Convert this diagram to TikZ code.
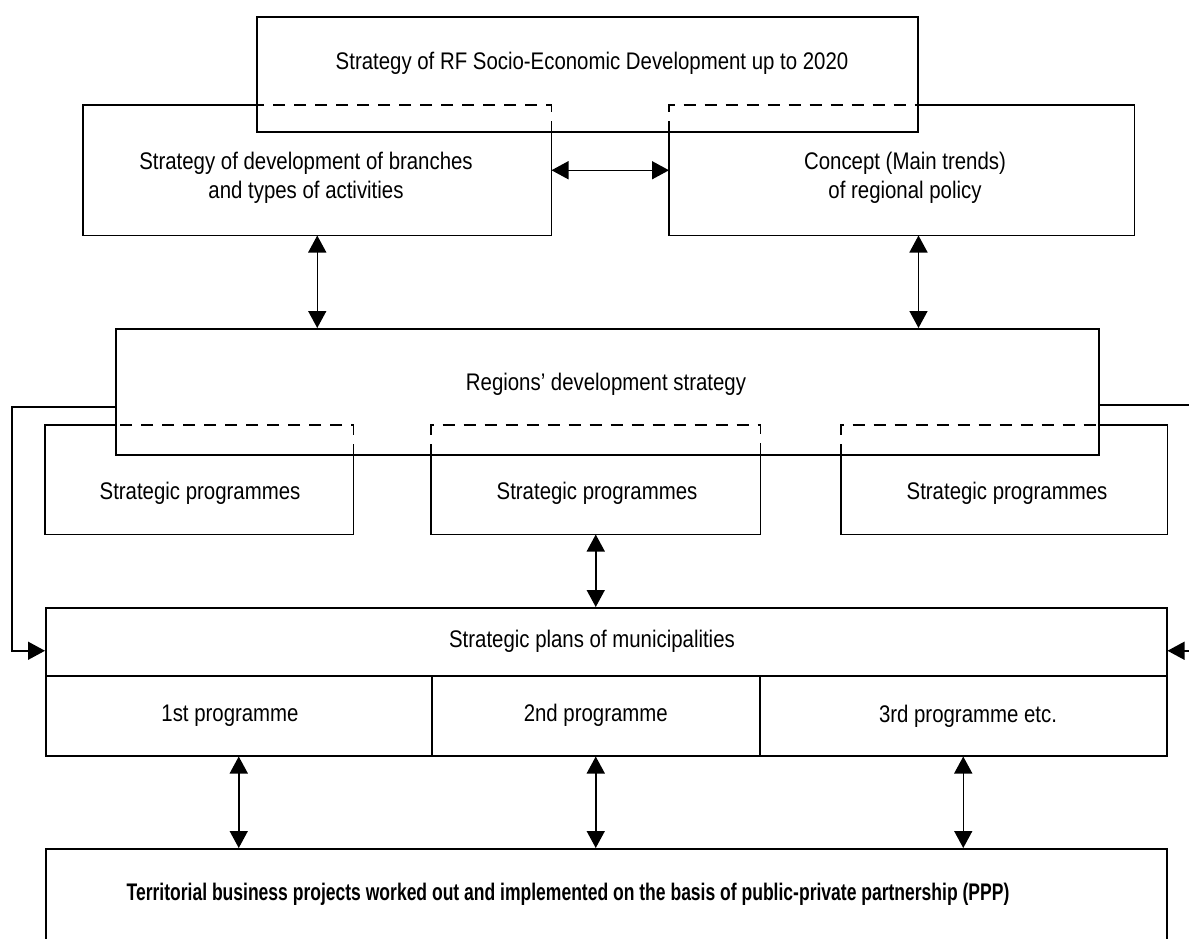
\documentclass[tikz,border=0pt]{standalone}
\usepackage{fontspec}
\setmainfont{Liberation Sans}[FakeStretch=0.85]
\newfontfamily\projectsfont{Liberation Sans}[FakeStretch=0.73]
\usetikzlibrary{arrows.meta,calc,positioning}

\begin{document}
\begin{tikzpicture}[
        x=0.5pt,
        y=-0.5pt,
        line width=0.75pt,
        >={Triangle[length=8.5pt,width=9pt]},
        block/.style={rectangle,inner sep=0pt,anchor=north west},
        framed block/.style={block,draw},
        hidden edge/.style={dash pattern=on 6pt off 4.5pt},
        block text/.style={align=center,font=\fontsize{12}{14.5}\selectfont}
    ]
        \clip (0,0) rectangle (1189,938);

        % The federal strategy with the two documents half hidden behind it.
        \node[framed block,minimum width=330.5pt,minimum height=57.5pt]
            (federal) at (256,16) {};
        \node[block,minimum width=233.5pt,minimum height=64.5pt]
            (branches) at (83,105) {};
        \node[block,minimum width=232pt,minimum height=64.5pt]
            (concept) at (669,105) {};
        \draw (federal.west |- branches.north) -- (branches.north west)
            -- (branches.south west) -- (branches.south east)
            -- (branches.east |- federal.south);
        \draw[hidden edge] (branches.east |- federal.south)
            -- (branches.north east) -- (federal.west |- branches.north);
        \draw (federal.east |- concept.north) -- (concept.north east)
            -- (concept.south east) -- (concept.south west)
            -- (concept.west |- federal.south);
        \draw[hidden edge] (concept.west |- federal.south)
            -- (concept.north west) -- (federal.east |- concept.north);

        % The regional strategy and its three programmes.
        \node[framed block,minimum width=491.5pt,minimum height=63pt]
            (regions) at (115,328) {};
        \node[block,minimum width=153.5pt,minimum height=54pt]
            (progleft) at (45,425) {};
        \node[block,minimum width=164pt,minimum height=54pt]
            (progmid) at (431,425) {};
        \node[block,minimum width=162.5pt,minimum height=54pt]
            (progright) at (841,425) {};
        \draw (regions.west |- progleft.north) -- (progleft.north west)
            -- (progleft.south west) -- (progleft.south east)
            -- (progleft.east |- regions.south);
        \draw[hidden edge] (progleft.east |- regions.south)
            -- (progleft.north east) -- (regions.west |- progleft.north);
        \draw (progmid.west |- regions.south) -- (progmid.south west)
            -- (progmid.south east) -- (progmid.east |- regions.south);
        \draw[hidden edge] (progmid.west |- regions.south)
            -- (progmid.north west) -- (progmid.north east)
            -- (progmid.east |- regions.south);
        \draw (regions.east |- progright.north) -- (progright.north east)
            -- (progright.south east) -- (progright.south west)
            -- (progright.west |- regions.south);
        \draw[hidden edge] (progright.west |- regions.south)
            -- (progright.north west) -- (regions.east |- progright.north);

        % The municipal plans, split into programmes, and the projects.
        \node[framed block,minimum width=560.5pt,minimum height=34pt]
            (plans) at (45,607) {};
        \node[framed block,minimum width=193pt,minimum height=40pt]
            (firstprog) at (45,675) {};
        \node[framed block,minimum width=164pt,minimum height=40pt]
            (secondprog) at (431,675) {};
        \node[framed block,minimum width=203.5pt,minimum height=40pt]
            (thirdprog) at (759,675) {};
        \node[framed block,minimum width=560.5pt,minimum height=60pt]
            (projects) at (45,848) {};

        % Texts.
        \node[block text] at (592,63)
            {Strategy of RF Socio-Economic Development up to 2020};
        \node[block text] at (306,178)
            {Strategy of development of branches\\and types of activities};
        \node[block text] at (905,178)
            {Concept (Main trends)\\of regional policy};
        \node[block text] at (606,384) {Regions’ development strategy};
        \node[block text] at (200,493) {Strategic programmes};
        \node[block text] at (597,493) {Strategic programmes};
        \node[block text] at (1007,493) {Strategic programmes};
        \node[block text] at (592,641) {Strategic plans of municipalities};
        \node[block text] at (230,716) {1st programme};
        \node[block text] at (secondprog.center) {2nd programme};
        \node[block text] at (968,716) {3rd programme etc.};
        \node[block text,font=\fontsize{12}{14.5}\projectsfont\bfseries]
            at (568,894)
            {Territorial business projects worked out and implemented on the basis of public-private partnership (PPP)};

        % Two-way links.
        \draw[<->] (branches.east) -- (concept.west);
        \draw[<->] (branches.south) -- (branches.south |- regions.north);
        \draw[<->] (concept.south -| federal.east)
            -- (regions.north -| federal.east);
        \draw[<->] (progmid.south) -- (progmid.south |- plans.north);
        \foreach \part in {firstprog,secondprog,thirdprog}
            \draw[<->] (\part.south) -- (\part.south |- projects.north);

        % Links from the regional strategy round to the municipal plans.
        \coordinate (leftbend) at (12,407);
        \coordinate (rightbend) at (1196,405);
        \draw[->] (leftbend -| regions.west) -- (leftbend)
            |- ($(plans.west)+(0,9)$);
        \draw[->] (rightbend -| regions.east) -- (rightbend)
            |- ($(plans.east)+(0,9)$);
\end{tikzpicture}
\end{document}
